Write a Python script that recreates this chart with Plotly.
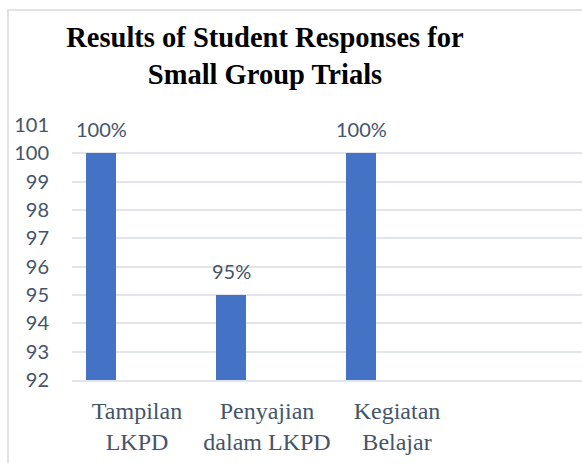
import plotly.graph_objects as go

categories = ["Tampilan<br>LKPD", "Penyajian<br>dalam LKPD", "Kegiatan<br>Belajar"]
values = [100, 95, 100]
y_ticks = [92, 93, 94, 95, 96, 97, 98, 99, 100, 101]
title_text = "<b>Results of Student Responses for<br>Small Group Trials</b>"

W, H = 582, 463
L, R, T, B = 72, 0, 125, 83
slate = "#44546A"
grid = "#E1E4EA"
serif = "Liberation Serif, Times New Roman, serif"

fig = go.Figure()
fig.add_trace(go.Bar(
    x=categories, y=values,
    width=0.23, offset=-0.392,
    marker=dict(color="#4472C4", line=dict(width=0)),
    hoverinfo="skip",
))

for c, v in zip(categories, values):
    fig.add_annotation(
        x=c, y=v, xref="x", yref="y",
        text=f"{v}%", showarrow=False,
        xshift=-36, yshift=24, yanchor="middle",
        font=dict(family="Lato", size=20, color=slate),
    )

# chart frame (left and top borders)
fig.add_shape(type="rect", xref="paper", yref="paper",
              x0=(8 - L) / 510, x1=1.3, y0=-1, y1=(380 - 10) / 255,
              line=dict(color="#D9D9D9", width=1.5), layer="below")

fig.update_layout(
    width=W, height=H,
    margin=dict(l=L, r=R, t=T, b=B, pad=0),
    paper_bgcolor="white", plot_bgcolor="white",
    showlegend=False,
    bargap=0,
    title=dict(text=title_text, x=265 / W, xanchor="center",
               xref="container", yref="container",
               y=1 - 47 / H, yanchor="middle",
               font=dict(family=serif, size=28.5, color="black")),
    xaxis=dict(type="category", range=[-0.5, 3.423], showgrid=False,
               showline=True, linecolor=grid, linewidth=1.5,
               ticks="", tickfont=dict(family=serif, size=24, color=slate),
               ticklabelstandoff=8, fixedrange=True),
    yaxis=dict(range=[92, 101], tickvals=y_ticks, showgrid=True,
               gridcolor=grid, gridwidth=1.5, zeroline=False, showline=False,
               ticks="", tickfont=dict(family="Lato", size=20, color=slate),
               ticklabelstandoff=22, fixedrange=True),
)

fig.write_html("out.html", config={"displayModeBar": False},
               post_script="document.body.style.margin='0';document.body.style.padding='0';")
